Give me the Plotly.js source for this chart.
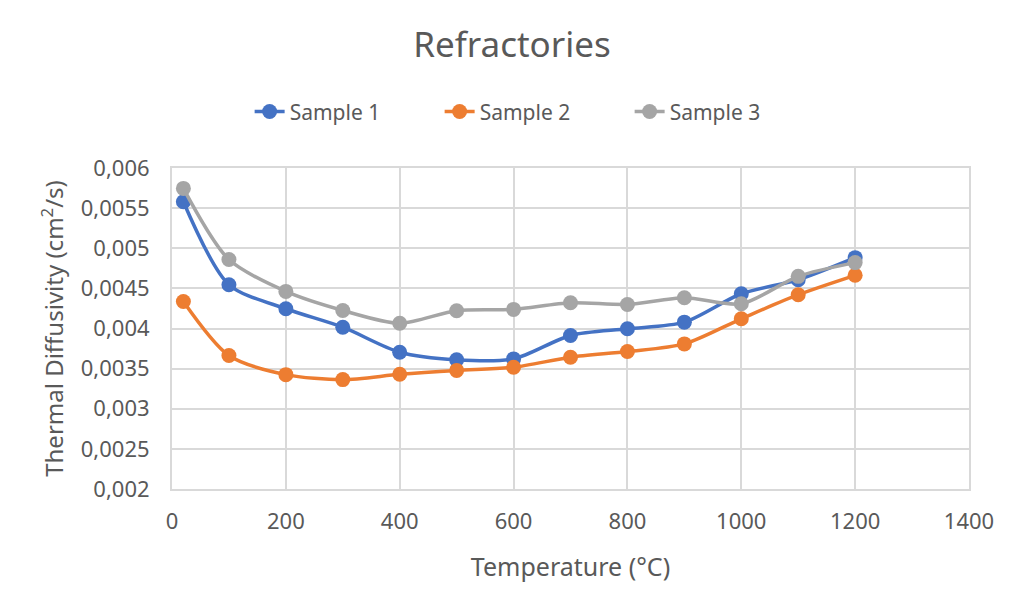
<!DOCTYPE html>
<html>
<head>
<meta charset="utf-8">
<script src="https://cdn.plot.ly/plotly-3.0.1.min.js"></script>
<style>html,body{margin:0;padding:0;background:#fff;}#chart{width:1024px;height:611px;}</style>
</head>
<body>
<div id="chart"></div>
<script>
const temperature = [20, 100, 200, 300, 400, 500, 600, 700, 800, 900, 1000, 1100, 1200];
const sample1 = [0.00558, 0.004546, 0.004246, 0.004016, 0.003704, 0.00361, 0.003621, 0.003913, 0.003996, 0.004079, 0.004433, 0.004608, 0.004883];
const sample2 = [0.004337, 0.003663, 0.003425, 0.003363, 0.003429, 0.003478, 0.003517, 0.003642, 0.003713, 0.003808, 0.004121, 0.004421, 0.004663];
const sample3 = [0.005746, 0.004859, 0.004462, 0.004225, 0.004066, 0.004222, 0.004238, 0.004321, 0.0043, 0.004384, 0.004308, 0.00465, 0.004821];
const seriesNames = ["Sample 1", "Sample 2", "Sample 3"];
const yTickVals = [0.002, 0.0025, 0.003, 0.0035, 0.004, 0.0045, 0.005, 0.0055, 0.006];
const yTickText = ["0,002", "0,0025", "0,003", "0,0035", "0,004", "0,0045", "0,005", "0,0055", "0,006"];
const xTickVals = [0, 200, 400, 600, 800, 1000, 1200, 1400];

const colors = ["#4472C4", "#ED7D31", "#A5A5A5"];
const series = [sample1, sample2, sample3];
const font = "Noto Sans, Open Sans, sans-serif";

const traces = series.map((ys, i) => ({
  x: temperature, y: ys, name: seriesNames[i], type: "scatter", mode: "lines+markers",
  line: {color: colors[i], width: 3.5, shape: "spline", smoothing: 0.8},
  marker: {color: colors[i], size: 15}
}));

const layout = {
  width: 1024, height: 611,
  margin: {l: 172, r: 55, t: 168, b: 122},
  paper_bgcolor: "#fff", plot_bgcolor: "#fff",
  font: {family: font, color: "#595959", size: 22},
  title: {text: "Refractories", font: {size: 35, color: "#595959", family: font}, x: 0.5, xanchor: "center", y: 0.926, yanchor: "middle"},
  showlegend: true,
  legend: {orientation: "h", x: 0.455, xanchor: "center", y: 1.175, yanchor: "middle", font: {size: 21, color: "#595959"}, traceorder: "normal", entrywidth: 145, entrywidthmode: "pixels"},
  xaxis: {
    range: [0, 1400], tickvals: xTickVals, showgrid: true, gridcolor: "#d9d9d9", gridwidth: 2,
    zeroline: false, showline: true, linecolor: "#d9d9d9", linewidth: 2, mirror: true,
    ticks: "", tickfont: {size: 22, color: "#595959"}, ticklabelstandoff: 12,
    title: {text: "Temperature (°C)", font: {size: 25, color: "#595959"}, standoff: 24}
  },
  yaxis: {
    range: [0.002, 0.006], tickvals: yTickVals, ticktext: yTickText, showgrid: true, gridcolor: "#d9d9d9", gridwidth: 2,
    zeroline: false, showline: true, linecolor: "#d9d9d9", linewidth: 2, mirror: true,
    ticks: "", tickfont: {size: 22, color: "#595959"}, ticklabelstandoff: 16,
    title: {text: "Thermal Diffusivity (cm<sup>2</sup>/s)", font: {size: 24, color: "#595959"}, standoff: 10}
  }
};

Plotly.newPlot("chart", traces, layout, {displayModeBar: false, staticPlot: true});
</script>
</body>
</html>
